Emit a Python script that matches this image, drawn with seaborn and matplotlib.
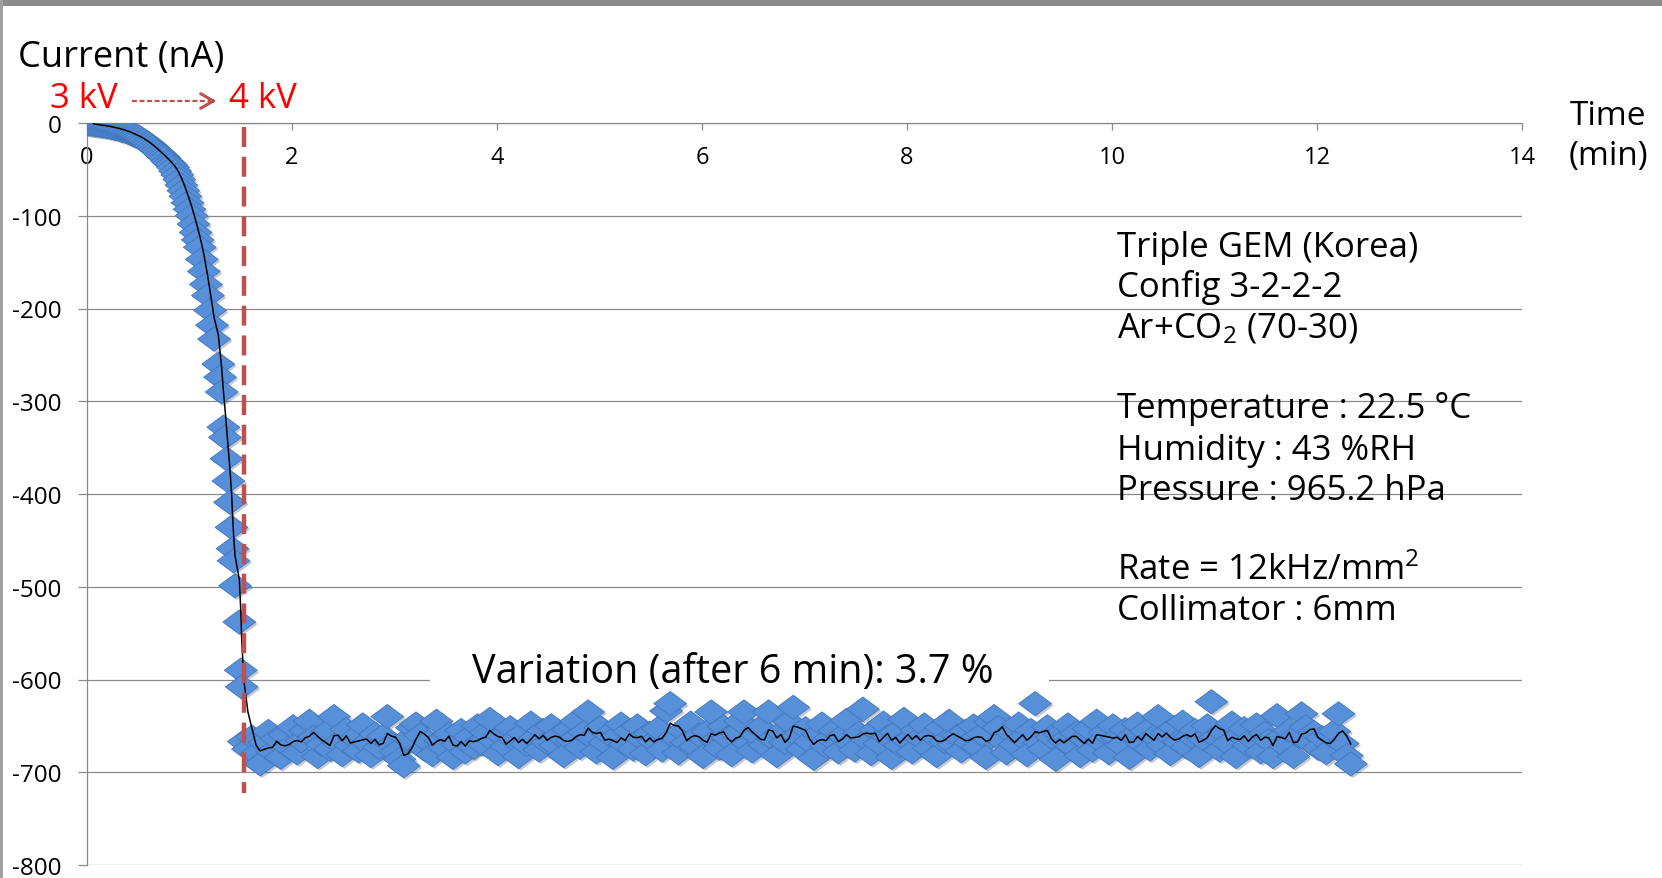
import numpy as np
import pandas as pd
import matplotlib
matplotlib.use("Agg")
import matplotlib.pyplot as plt
import matplotlib.patheffects as pe
from matplotlib.path import Path
from matplotlib.markers import MarkerStyle
from matplotlib.lines import Line2D
from matplotlib.patches import Rectangle, FancyArrowPatch
import seaborn as sns

# ---------------- data ----------------
curve_time = [0.00, 0.02, 0.04, 0.06, 0.08, 0.10, 0.12, 0.14, 0.16, 0.18,
              0.20, 0.22, 0.24, 0.26, 0.28, 0.30, 0.32, 0.34, 0.36, 0.38,
              0.40, 0.42, 0.44, 0.46, 0.48, 0.50, 0.52, 0.54, 0.56, 0.58,
              0.60, 0.62, 0.64, 0.66, 0.68, 0.70, 0.72, 0.74, 0.76, 0.78,
              0.80, 0.82, 0.84, 0.86, 0.88, 0.90, 0.92, 0.94, 0.96, 0.98,
              1.00, 1.02, 1.04, 1.06, 1.08, 1.10, 1.12, 1.14, 1.16, 1.18,
              1.20, 1.22, 1.24, 1.281, 1.298, 1.314, 1.330, 1.346, 1.362, 1.380,
              1.395, 1.410, 1.420, 1.430, 1.444, 1.486, 1.500, 1.510]
curve_current = [0, -1, -1, -1, -2, -2, -2, -3, -3, -3,
                 -4, -4, -5, -5, -6, -6, -7, -8, -8, -9,
                 -10, -11, -12, -13, -14, -15, -16, -18, -19, -21,
                 -22, -24, -26, -28, -30, -32, -34, -36, -38, -41,
                 -43, -45, -48, -52, -56, -61, -67, -73, -79, -86,
                 -93, -100, -109, -118, -126, -134, -147, -160, -174, -186,
                 -202, -218, -233, -260, -274, -290, -328, -339, -362, -386,
                 -409, -436, -459, -472, -499, -538, -590, -608]

plateau_start = 1.53   # min
plateau_end = 12.33    # min
plateau_current = [
    -667, -675, -662, -680, -691, -668, -656, -678, -664, -684, -660, -673, -651,
    -679, -666, -655, -645, -662, -683, -670, -657, -675, -640, -668, -681,
    -654, -671, -663, -677, -649, -668, -682, -659, -673, -661, -640, -670, -678,
    -686, -693, -664, -652, -648, -660, -675, -667, -681, -645, -666, -674,
    -659, -684, -670, -655, -678, -662, -673, -650, -669, -657, -643, -666, -680,
    -661, -672, -652, -665, -683, -658, -670, -647, -663, -676, -655, -668,
    -650, -671, -660, -682, -654, -666, -645, -673, -657, -635, -663, -678, -652,
    -668, -659, -684, -661, -648, -670, -656, -675, -650, -664, -680, -658,
    -667, -653, -676, -634, -626, -662, -679, -655, -668, -647, -672, -660, -683,
    -656, -635, -666, -674, -651, -663, -681, -658, -645, -635, -669, -677,
    -660, -652, -671, -635, -664, -682, -657, -668, -646, -630, -661, -675, -653,
    -667, -685, -659, -648, -672, -663, -655, -678, -661, -644, -669, -676,
    -658, -632, -665, -680, -654, -669, -647, -662, -684, -657, -671, -643, -666,
    -678, -655, -663, -649, -674, -660, -682, -652, -667, -645, -670, -661,
    -677, -656, -668, -650, -673, -659, -684, -646, -640, -652, -666, -679, -657,
    -670, -648, -663, -681, -655, -626, -668, -675, -651, -662, -686, -659,
    -666, -649, -672, -658, -682, -664, -653, -676, -645, -667, -657, -679, -650,
    -663, -671, -654, -684, -660, -648, -669, -656, -675, -662, -640, -671,
    -658, -680, -652, -667, -646, -673, -661, -655, -682, -664, -650, -624, -662,
    -676, -657, -669, -647, -683, -660, -653, -671, -664, -649, -678, -658,
    -666, -683, -639, -662, -672, -655, -683, -660, -637, -651, -668, -657, -674,
    -663, -679, -660, -656, -637, -669, -682, -691]

x_ticks = [0, 2, 4, 6, 8, 10, 12, 14]
y_ticks = [0, -100, -200, -300, -400, -500, -600, -700, -800]
y_tick_labels = ["0", "-100", "-200", "-300", "-400", "-500", "-600", "-700", "-800"]

switch_time = 1.532
switch_bottom = -722
trend_window = 4

info_lines = ["Triple GEM (Korea)", "Config 3-2-2-2", r"Ar+CO$_\mathregular{2}$ (70-30)",
              "Temperature : 22.5 °C", "Humidity : 43 %RH", "Pressure : 965.2 hPa",
              r"Rate = 12kHz/mm$^\mathregular{2}$", "Collimator : 6mm"]
info_baselines_px = [257, 297, 338, 418, 460, 500, 580, 620]
variation_text = "Variation (after 6 min): 3.7 %"

# ---------------- figure ----------------
sns.set_theme(style="white")
plt.rcParams["font.family"] = ["Open Sans", "DejaVu Sans"]
plt.rcParams["axes.unicode_minus"] = False
plt.rcParams["mathtext.fontset"] = "custom"
plt.rcParams["mathtext.rm"] = "Open Sans"
plt.rcParams["mathtext.it"] = "Open Sans:italic"
plt.rcParams["mathtext.bf"] = "Open Sans:bold"

W, H = 1662, 879
fig = plt.figure(figsize=(W / 100, H / 100), dpi=100)
fig.patch.set_facecolor("white")

def fx(px):
    return px / W

def fy(py):
    return 1 - py / H

ax_left, ax_right, ax_top, ax_bottom = 87, 1522, 124, 866
ax = fig.add_axes([fx(ax_left), fy(ax_bottom), (ax_right - ax_left) / W, (ax_bottom - ax_top) / H])

time_all = list(curve_time) + list(np.linspace(plateau_start, plateau_end, len(plateau_current)))
current_all = list(curve_current) + list(plateau_current)
df = pd.DataFrame({"time": time_all, "current": current_all})
df["trend"] = df["current"].rolling(trend_window).mean()

diamond = MarkerStyle(Path([(-1, 0), (0, 0.74), (1, 0), (0, -0.74), (-1, 0)],
                           [Path.MOVETO, Path.LINETO, Path.LINETO, Path.LINETO, Path.CLOSEPOLY]))

grid_col = "#8a8a8a"
ax.set_axisbelow(True)

sns.scatterplot(data=df, x="time", y="current", marker=diamond, s=560,
                color="#5790d8", edgecolor="#4277bf", linewidth=0.6, ax=ax,
                legend=False, zorder=3,
                path_effects=[pe.SimplePatchShadow(offset=(1.5, -1.5), alpha=0.25), pe.Normal()])
sns.lineplot(data=df, x="time", y="trend", color="black", lw=1.1, sort=False,
             estimator=None, ax=ax, zorder=4)

# red dashed switch line
ax.plot([switch_time, switch_time], [-4, switch_bottom], color="#c0504d", lw=3.2,
        dashes=(4.5, 2.2), zorder=5, solid_capstyle="butt", dash_capstyle="butt")

# white box hiding -600 gridline behind the variation text
ax.add_patch(Rectangle(((430 - ax_left) / 102.5, -615), (1049 - 430) / 102.5, 30,
                       facecolor="white", edgecolor="none", zorder=1))

ax.set_xlim(0, 14)
ax.set_ylim(-800, 0)
ax.set_xticks(x_ticks)
ax.set_xticklabels([str(t) for t in x_ticks])
ax.set_yticks(y_ticks)
ax.set_yticklabels(y_tick_labels)
ax.set_xlabel("")
ax.set_ylabel("")

ax.yaxis.grid(True, color=grid_col, lw=0.9)
ax.xaxis.grid(False)
for s in ["right", "bottom"]:
    ax.spines[s].set_visible(False)
for s in ["left", "top"]:
    ax.spines[s].set_visible(True)
    ax.spines[s].set_color(grid_col)
    ax.spines[s].set_linewidth(0.9)

ax.tick_params(axis="x", top=True, bottom=False, labeltop=True, labelbottom=False,
               direction="in", length=5, width=0.9, color=grid_col, pad=-33,
               labelsize=17, labelcolor="black")
ax.tick_params(axis="y", left=True, direction="out", length=6.5, width=0.9,
               color=grid_col, pad=12, labelsize=17.5, labelcolor="black")

# ---------------- texts ----------------
fig.text(fx(18), fy(67), "Current (nA)", fontsize=26, color="black", va="baseline", ha="left")
fig.text(fx(50), fy(108), "3 kV", fontsize=25, color="#ff0000", va="baseline", ha="left")
fig.text(fx(229), fy(108), "4 kV", fontsize=25, color="#ff0000", va="baseline", ha="left")
fig.add_artist(Line2D([fx(132), fx(214)], [fy(102), fy(102)], color="#c0504d", lw=1.6,
                      dashes=(2.2, 1.2)))
fig.add_artist(FancyArrowPatch((fx(208), fy(102)), (fx(219), fy(102)),
                               transform=fig.transFigure,
                               arrowstyle="->,head_length=0.6,head_width=0.35",
                               color="#c0504d", lw=2.2, mutation_scale=15))
fig.text(fx(1608), fy(125), "Time", fontsize=24, color="black", va="baseline", ha="center")
fig.text(fx(1608), fy(165), "(min)", fontsize=24, color="black", va="baseline", ha="center")

for line, py in zip(info_lines, info_baselines_px):
    fig.text(fx(1117), fy(py), line, fontsize=25, color="black", va="baseline", ha="left")

fig.text(fx(472), fy(683), variation_text, fontsize=28.5, color="black", va="baseline", ha="left",
         zorder=6)

# screenshot frame (grey band at the top and left edge)
fig.add_artist(Rectangle((0, fy(7)), 1, 7 / H, transform=fig.transFigure,
                         facecolor="#8c8c8c", edgecolor="none"))
fig.add_artist(Rectangle((0, 0), 3 / W, 1, transform=fig.transFigure,
                         facecolor="#a0a0a0", edgecolor="none"))

fig.savefig("out.png", dpi=100)
